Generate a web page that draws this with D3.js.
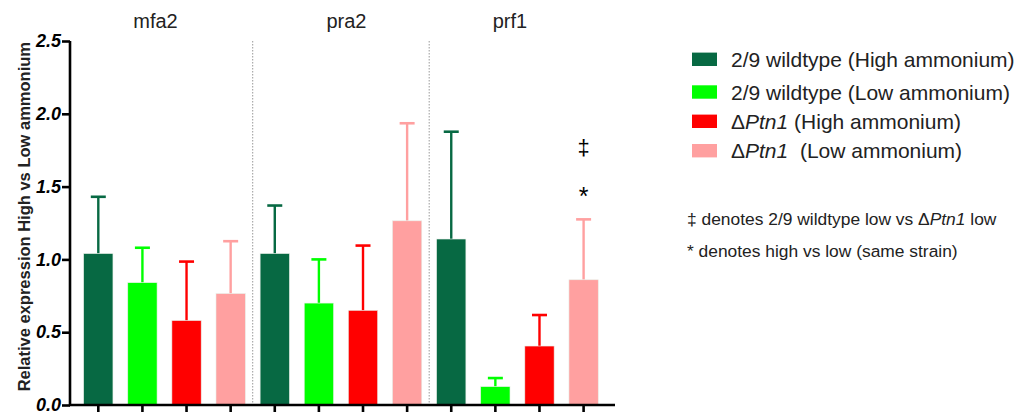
<!DOCTYPE html>
<html><head><meta charset="utf-8">
<script src="https://cdn.jsdelivr.net/npm/d3@7"></script>
<style>body{margin:0;background:#fff}svg{display:block;font-family:"Liberation Sans",Arial,sans-serif}</style>
</head><body><svg id="c" width="1021" height="412"></svg>
<script>
const genes = ["mfa2", "pra2", "prf1"];
const seriesNames = ["2/9 wildtype (High ammonium)", "2/9 wildtype (Low ammonium)", "ΔPtn1 (High ammonium)", "ΔPtn1  (Low ammonium)"];
const colors = ["#076943", "#00ff00", "#ff0000", "#ffa0a0"];
const meanValues = [
  [1.04, 0.84, 0.58, 0.765],
  [1.04, 0.70, 0.65, 1.265],
  [1.14, 0.126, 0.405, 0.86]
];
const errorTops = [
  [1.43, 1.08, 0.985, 1.125],
  [1.37, 1.00, 1.095, 1.935],
  [1.877, 0.185, 0.618, 1.275]
];
const yTicks = [0, 0.5, 1.0, 1.5, 2.0, 2.5];

const svg = d3.select("#c");
const yTop = 41, yBot = 405, xL = 70, xR = 615;
const y = d3.scaleLinear().domain([0, 2.5]).range([yBot, yTop]);
const bars = [];
genes.forEach((g, gi) => seriesNames.forEach((s, si) => bars.push({g, gi, si, v: meanValues[gi][si], e: errorTops[gi][si]})));
const x = d3.scalePoint().domain(d3.range(bars.length)).range([98.3, 583.6]);
const bw = 29.3;

// dividers
[4, 8].forEach(i => {
  const xd = (x(i - 1) + x(i)) / 2;
  svg.append("line").attr("x1", xd).attr("x2", xd).attr("y1", yTop).attr("y2", yBot)
    .attr("stroke", "#999").attr("stroke-width", 1).attr("stroke-dasharray", "1.5,1.5");
});

// error bars
const eb = svg.append("g");
bars.forEach((d, i) => {
  const cx = x(i);
  eb.append("line").attr("x1", cx).attr("x2", cx).attr("y1", y(d.v)).attr("y2", y(d.e))
    .attr("stroke", colors[d.si]).attr("stroke-width", 2.4);
  eb.append("line").attr("x1", cx - 7.5).attr("x2", cx + 7.5).attr("y1", y(d.e)).attr("y2", y(d.e))
    .attr("stroke", colors[d.si]).attr("stroke-width", 2.6);
});
// bars
svg.append("g").selectAll("rect").data(bars).join("rect")
  .attr("x", (d, i) => x(i) - bw / 2).attr("width", bw)
  .attr("y", d => y(d.v)).attr("height", d => yBot - y(d.v))
  .attr("fill", d => colors[d.si]).attr("stroke", "#e8efe8").attr("stroke-width", 0.6);

// y axis
const ya = svg.append("g").attr("transform", `translate(${xL},0)`)
  .call(d3.axisLeft(y).tickValues(yTicks).tickFormat(d3.format(".1f")).tickSize(8).tickPadding(1));
ya.select(".domain").attr("stroke", "#000").attr("stroke-width", 2.6).attr("d", `M0,${yTop}V${yBot + 1}`);
ya.selectAll(".tick line").attr("stroke", "#000").attr("stroke-width", 2.6);
ya.selectAll(".tick text").attr("font-size", 18).attr("font-weight", "bold").attr("font-style", "italic")
  .attr("fill", "#000").attr("font-family", "'Liberation Sans',Arial,sans-serif");

// x axis
svg.append("line").attr("x1", xL - 1).attr("x2", xR).attr("y1", yBot).attr("y2", yBot)
  .attr("stroke", "#000").attr("stroke-width", 2.6);
svg.append("g").selectAll("line").data(bars).join("line")
  .attr("x1", (d, i) => x(i)).attr("x2", (d, i) => x(i))
  .attr("y1", yBot).attr("y2", yBot + 8).attr("stroke", "#000").attr("stroke-width", 2.6);

// group titles
const titleShift = [-9, 5.5, -7.5];
genes.forEach((g, gi) => {
  const cx = (x(gi * 4) + x(gi * 4 + 3)) / 2 + titleShift[gi];
  svg.append("text").attr("x", cx).attr("y", 28).attr("text-anchor", "middle")
    .attr("font-size", 20).attr("fill", "#222").text(g);
});

// y title
svg.append("text").attr("transform", `translate(29.5,216.7) rotate(-90)`)
  .attr("text-anchor", "middle").attr("font-size", 16.5).attr("font-weight", "bold").attr("fill", "#222")
  .text("Relative expression High vs Low ammonium");

// significance marks on prf1 low ammonium ΔPtn1
const sx = x(11);
svg.append("text").attr("x", sx).attr("y", 155).attr("text-anchor", "middle").attr("font-size", 22).attr("fill", "#000").text("‡");
svg.append("text").attr("x", sx).attr("y", 205).attr("text-anchor", "middle").attr("font-size", 25).attr("fill", "#000").text("*");

// legend
const lg = svg.append("g");
const rowY = [59.3, 92, 121.3, 150.7];
seriesNames.forEach((s, i) => {
  lg.append("rect").attr("x", 692).attr("y", rowY[i] - 6.7).attr("width", 25).attr("height", 13.4).attr("fill", colors[i]);
  const t = lg.append("text").attr("x", 731).attr("y", rowY[i] + 7.5).attr("font-size", 21).attr("fill", "#222");
  if (i < 2) t.text(s);
  else {
    t.append("tspan").text("Δ");
    t.append("tspan").attr("font-style", "italic").text("Ptn1");
    t.append("tspan").attr("xml:space", "preserve").style("white-space", "pre").text(i === 2 ? " (High ammonium)" : "  (Low ammonium)");
  }
});
const n1 = lg.append("text").attr("x", 687).attr("y", 224.5).attr("font-size", 17.4).attr("fill", "#222");
n1.append("tspan").text("‡ denotes 2/9 wildtype low vs Δ");
n1.append("tspan").attr("font-style", "italic").text("Ptn1");
n1.append("tspan").text(" low");
lg.append("text").attr("x", 687).attr("y", 257).attr("font-size", 17.4).attr("fill", "#222").text("* denotes high vs low (same strain)");
</script></body></html>
